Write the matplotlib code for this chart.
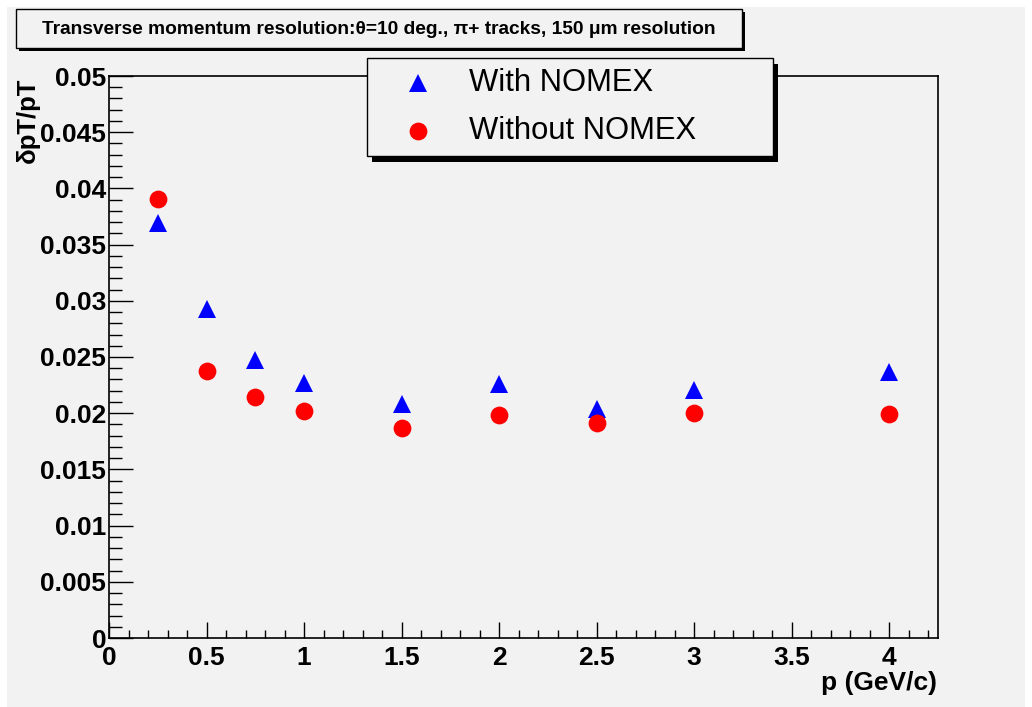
import matplotlib
matplotlib.use("Agg")
import matplotlib.pyplot as plt
from matplotlib.patches import Rectangle
from matplotlib.lines import Line2D
from matplotlib.ticker import MultipleLocator, FuncFormatter

plt.rcParams['font.family'] = ['Liberation Sans', 'DejaVu Sans']

# ---- data ----
p_values = [0.25, 0.5, 0.75, 1.0, 1.5, 2.0, 2.5, 3.0, 4.0]
with_nomex = [0.03693, 0.02925, 0.02473, 0.02265, 0.02086, 0.02258, 0.02033, 0.02203, 0.02369]
without_nomex = [0.0391, 0.02375, 0.02145, 0.02016, 0.01868, 0.01988, 0.01917, 0.02004, 0.01997]
series_labels = ["With NOMEX", "Without NOMEX"]
title_text = "Transverse momentum resolution:\u03b8=10 deg., \u03c0+ tracks, 150 \u03bcm resolution"
x_label = "p (GeV/c)"
y_label = "\u03b4pT/pT"

W, H = 1032, 707
GRAY = "#f2f2f2"
fig = plt.figure(figsize=(W / 100, H / 100), dpi=100, facecolor="white")


def fx(px):
    return px / W


def fy(py):
    return 1 - py / H


# canvas gray area
fig.patches.append(Rectangle((fx(7), 0), fx(1025) - fx(7), fy(7), transform=fig.transFigure,
                             facecolor=GRAY, edgecolor="none", zorder=-10))

L, R, T, B = 109, 938, 76, 638
ax = fig.add_axes([fx(L), fy(B), fx(R) - fx(L), fy(T) - fy(B)])
ax.set_zorder(1)
ax.set_facecolor(GRAY)
ax.set_xlim(0, 4.25)
ax.set_ylim(0, 0.05)

ax.plot(p_values, with_nomex, linestyle="none", marker="^", markersize=12.5,
        color=(0, 0, 1), markeredgewidth=0, zorder=3)
ax.plot(p_values, without_nomex, linestyle="none", marker="o", markersize=12.8,
        color=(1, 0, 0), markeredgewidth=0, zorder=3)

for s in ax.spines.values():
    s.set_linewidth(1.2)
    s.set_color("black")

ax.xaxis.set_major_locator(MultipleLocator(0.5))
ax.xaxis.set_minor_locator(MultipleLocator(0.1))
ax.yaxis.set_major_locator(MultipleLocator(0.005))
ax.yaxis.set_minor_locator(MultipleLocator(0.001))


def fmt(v, pos):
    s = ("%.3f" % v).rstrip("0").rstrip(".")
    return s if s else "0"


ax.xaxis.set_major_formatter(FuncFormatter(fmt))
ax.yaxis.set_major_formatter(FuncFormatter(fmt))

ax.tick_params(axis="x", which="major", direction="in", length=11.5, width=1.0, top=False,
               labelsize=19, pad=6)
ax.tick_params(axis="x", which="minor", direction="in", length=5.8, width=1.0, top=False)
ax.tick_params(axis="y", which="major", direction="in", length=17.3, width=1.0, right=False,
               labelsize=19, pad=2)
ax.tick_params(axis="y", which="minor", direction="in", length=9, width=1.0, right=False)
for lab in ax.get_xticklabels() + ax.get_yticklabels():
    lab.set_fontweight("bold")

fig.text(fx(937), fy(683), x_label, ha="right", va="center", fontsize=19, fontweight="bold")
fig.text(fx(28), fy(78), y_label, ha="center", va="top", rotation=90, fontsize=18.5,
         fontweight="bold")

# title box with shadow
tx0, ty0, tx1, ty1 = 16, 9, 742, 48
fig.patches.append(Rectangle((fx(tx0 + 3), fy(ty1 + 3)), fx(tx1 - tx0), fy(ty0) - fy(ty1),
                             transform=fig.transFigure, facecolor="black", edgecolor="none", zorder=1))
fig.patches.append(Rectangle((fx(tx0), fy(ty1)), fx(tx1 - tx0), fy(ty0) - fy(ty1),
                             transform=fig.transFigure, facecolor=GRAY, edgecolor="black",
                             linewidth=1.0, zorder=2))
fig.text(fx((tx0 + tx1) / 2), fy((ty0 + ty1) / 2 + 1), title_text, ha="center", va="center",
         fontsize=13.8, fontweight="bold", zorder=3)

# legend box with shadow
lx0, ly0, lx1, ly1 = 367, 58, 773, 156
leg_shadow = Rectangle((fx(lx0 + 5), fy(ly1 + 6)), fx(lx1 - lx0), fy(ly0) - fy(ly1),
                       transform=fig.transFigure, facecolor="black", edgecolor="none", zorder=4)
leg_box = Rectangle((fx(lx0), fy(ly1)), fx(lx1 - lx0), fy(ly0) - fy(ly1),
                    transform=fig.transFigure, facecolor=GRAY, edgecolor="black",
                    linewidth=1.0, zorder=5)
fig.patches.extend([leg_shadow, leg_box])
for label, marker, color, ypix, ms in [(series_labels[0], "^", (0, 0, 1), 83, 12.5),
                                       (series_labels[1], "o", (1, 0, 0), 131, 12.8)]:
    fig.lines.append(Line2D([fx(418)], [fy(ypix)], transform=fig.transFigure, marker=marker,
                            markersize=ms, color=color, markeredgewidth=0, linestyle="none",
                            zorder=6))
    fig.text(fx(469), fy(ypix), label, ha="left", va="center", fontsize=22.3, zorder=6)

fig.savefig("out.png", dpi=100, facecolor=fig.get_facecolor())
